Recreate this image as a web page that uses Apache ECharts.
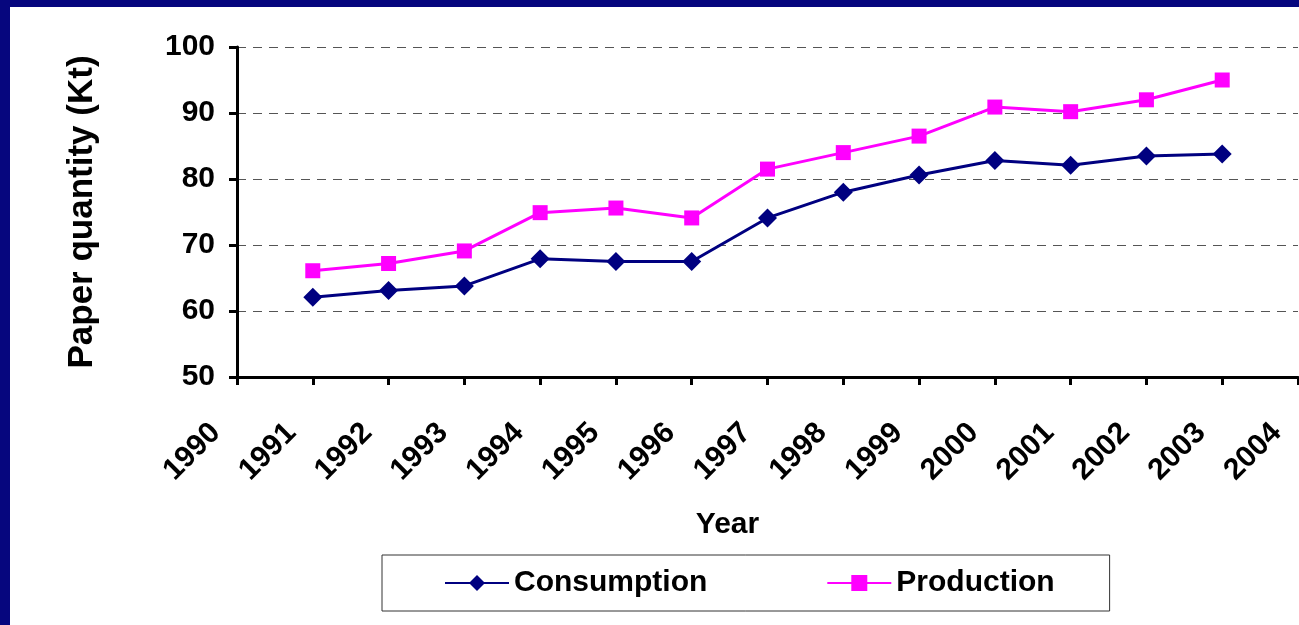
<!DOCTYPE html>
<html>
<head>
<meta charset="utf-8">
<title>Paper quantity</title>
<script src="https://cdn.jsdelivr.net/npm/echarts@6/dist/echarts.min.js"></script>
<style>
  html, body { margin: 0; padding: 0; background: #fff; }
  #main { width: 1299px; height: 625px; }
</style>
</head>
<body>
<div id="main"></div>
<script>
// values
var years = [1991, 1992, 1993, 1994, 1995, 1996, 1997, 1998, 1999, 2000, 2001, 2002, 2003];
var consumption = [62.1, 63.1, 63.8, 67.9, 67.5, 67.5, 74.1, 78.0, 80.6, 82.8, 82.1, 83.5, 83.8];
var production = [66.1, 67.2, 69.1, 74.9, 75.6, 74.1, 81.5, 84.0, 86.5, 90.9, 90.2, 92.0, 95.0];

var font = "'Liberation Sans', Arial, sans-serif";

function pairs(vals) {
  return years.map(function (y, i) { return [y, vals[i]]; });
}

var myChart = echarts.init(document.getElementById('main'));

var option = {
  animation: false,
  backgroundColor: '#fff',
  textStyle: { fontFamily: font },
  graphic: [
    { type: 'rect', left: 0, top: 0, shape: { width: 1299, height: 7 }, style: { fill: '#06067e' }, z: 100 },
    { type: 'rect', left: 0, top: 0, shape: { width: 10, height: 625 }, style: { fill: '#06067e' }, z: 100 }
  ],
  grid: { left: 237, right: 1, top: 47, bottom: 248, containLabel: false },
  xAxis: {
    type: 'value',
    min: 1990,
    max: 2004,
    interval: 1,
    name: 'Year',
    nameLocation: 'middle',
    nameGap: 133,
    nameTextStyle: { fontSize: 30, fontWeight: 'bold', color: '#000', fontFamily: font, padding: [0, 80, 0, 0] },
    axisLine: { lineStyle: { color: '#000', width: 3 } },
    axisTick: { show: true, length: 8, lineStyle: { color: '#000', width: 3 } },
    axisLabel: {
      rotate: 45,
      margin: 30,
      padding: [0, 30, 0, 0],
      fontSize: 30,
      fontWeight: 'bold',
      color: '#000',
      fontFamily: font,
      showMinLabel: true,
      showMaxLabel: true,
      formatter: function (v) { return String(v); }
    },
    splitLine: { show: false }
  },
  yAxis: {
    type: 'value',
    min: 50,
    max: 100,
    interval: 10,
    name: 'Paper quantity (Kt)',
    nameLocation: 'middle',
    nameGap: 137,
    nameTextStyle: { fontSize: 35, fontWeight: 'bold', color: '#000', fontFamily: font },
    axisLine: { show: true, lineStyle: { color: '#000', width: 3 } },
    axisTick: { show: true, length: 8, lineStyle: { color: '#000', width: 3 } },
    axisLabel: { margin: 22, fontSize: 30, fontWeight: 'bold', color: '#000', fontFamily: font },
    splitLine: { show: true, lineStyle: { color: '#555', width: 1, type: [9, 7] } }
  },
  legend: {
    left: 382,
    top: 555,
    orient: 'horizontal',
    itemWidth: 64,
    itemHeight: 20,
    itemGap: 119,
    padding: [13, 55, 13, 62],
    borderColor: '#333',
    borderWidth: 1,
    textStyle: { fontSize: 30, fontWeight: 'bold', color: '#000', fontFamily: font },
    data: ['Consumption', 'Production']
  },
  series: [
    {
      name: 'Consumption',
      type: 'line',
      data: pairs(consumption),
      symbol: 'diamond',
      symbolSize: 19,
      lineStyle: { color: '#000080', width: 3 },
      itemStyle: { color: '#000080' }
    },
    {
      name: 'Production',
      type: 'line',
      data: pairs(production),
      symbol: 'rect',
      symbolSize: 15,
      lineStyle: { color: '#ff00ff', width: 3 },
      itemStyle: { color: '#ff00ff' }
    }
  ]
};

myChart.setOption(option);
</script>
</body>
</html>
